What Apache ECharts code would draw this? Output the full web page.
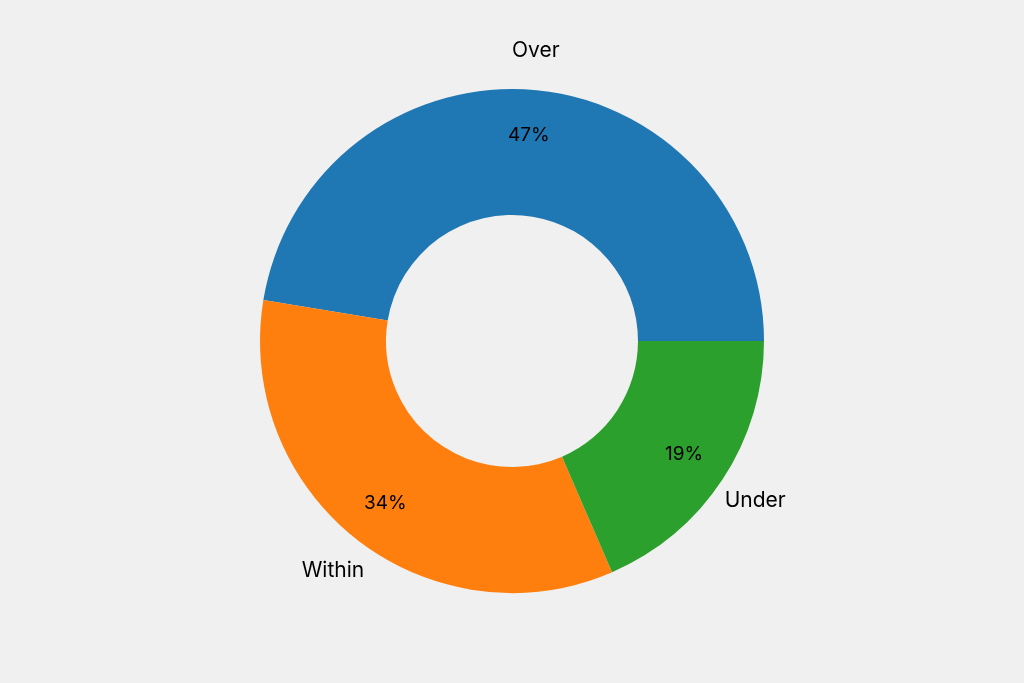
<!DOCTYPE html>
<html><head><meta charset="utf-8">
<script src="https://cdn.jsdelivr.net/npm/echarts@6/dist/echarts.min.js"></script>
<style>html,body{margin:0;background:#f0f0f0}#c{width:1024px;height:683px}</style>
</head><body><div id="c"></div>
<script>
const categories = ['Over', 'Within', 'Under'];
const values = [47.4, 34.1, 18.5];
const colors = ['#1f77b4', '#ff7f0e', '#2ca02c'];
const data = categories.map((n, i) => ({name: n, value: values[i], itemStyle: {color: colors[i]}}));
const clear = categories.map((n, i) => ({name: n, value: values[i], itemStyle: {color: 'rgba(0,0,0,0)'}}));
const base = {type: 'pie', center: [512, 341], startAngle: 0, clockwise: false, animation: false};
const chart = echarts.init(document.getElementById('c'));
chart.setOption({
  backgroundColor: '#f0f0f0',
  series: [
    Object.assign({}, base, {radius: [126, 252], data: data, label: {show: false}, labelLine: {show: false}}),
    Object.assign({}, base, {radius: [126, 280], data: clear, silent: true,
      label: {show: true, position: 'inside', formatter: p => Math.round(p.value) + '%', fontSize: 19, color: '#000', fontFamily: 'Inter'}}),
    Object.assign({}, base, {radius: [270, 306], data: clear, silent: true,
      label: {show: true, position: 'inside', formatter: '{b}', fontSize: 21, color: '#000', fontFamily: 'Inter'}})
  ]
});
</script></body></html>
